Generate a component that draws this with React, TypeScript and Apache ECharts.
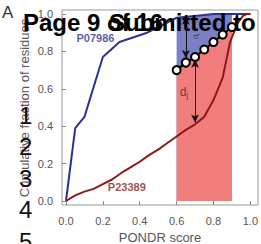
import React, { useEffect, useRef } from "react";
import * as echarts from "echarts";

// ---- data ----
const blueCurve: [number, number][] = [
  [0, 0], [0.05, 0.39], [0.1, 0.45], [0.2, 0.77], [0.29, 0.85], [0.44, 0.9],
  [0.6, 0.98], [0.65, 0.985], [0.7, 0.99], [0.75, 0.995], [0.8, 1.0],
  [0.85, 1.0], [0.9, 1.0], [1.0, 1.0],
];
const redCurve: [number, number][] = [
  [0, 0], [0.05, 0.03], [0.1, 0.05], [0.15, 0.065], [0.2, 0.09], [0.25, 0.115],
  [0.3, 0.15], [0.35, 0.18], [0.4, 0.21], [0.45, 0.245], [0.5, 0.275],
  [0.55, 0.31], [0.6, 0.345], [0.65, 0.38], [0.7, 0.41], [0.75, 0.45],
  [0.8, 0.54], [0.85, 0.66], [0.89, 0.85], [0.93, 0.95], [0.96, 0.99],
  [0.98, 1.0], [1.0, 1.0],
];
const circleLine: [number, number][] = [
  [0.6, 0.7], [0.65, 0.74], [0.7, 0.77], [0.75, 0.81], [0.8, 0.85],
  [0.85, 0.89], [0.9, 0.93],
];
const fillRange = [0.6, 0.9];
const arrowBlue = { x: 0.65, from: 0.985, to: 0.765 };
const arrowRed = { x: 0.7, from: 0.755, to: 0.42 };
const seriesLabels = [
  { name: "P07986", pos: [0.16, 0.87] as [number, number], color: "#2e3192" },
  { name: "P23389", pos: [0.33, 0.075] as [number, number], color: "#8b1a1a" },
];
const distLabels = [
  { sub: "j", pos: [0.64, 0.585] as [number, number], rotate: 0, size: 12 },
  { sub: "i", pos: [0.705, 0.88] as [number, number], rotate: 90, size: 8 },
];
const tickValues = [0, 0.2, 0.4, 0.6, 0.8, 1.0];
const xTitle = "PONDR score";
const yTitle = "Cumulative fraction of residues";
const lineNumbers = ["1", "2", "3", "4", "5"];

const FONT = "'Liberation Sans', Arial, sans-serif";

const topText = (text: string, x: number, y: number, font: string, fill: string, z = 100) => ({
  type: "text",
  x,
  y,
  z,
  style: { text, font, fill, align: "left", verticalAlign: "top", textAlign: "left", textVerticalAlign: "top" },
});

export default function App() {
  const ref = useRef<HTMLDivElement>(null);
  useEffect(() => {
    if (!ref.current) return;
    const chart = echarts.init(ref.current, null, { renderer: "svg" });
    const blueFill = blueCurve.filter((p) => p[0] >= fillRange[0] && p[0] <= fillRange[1]);
    const tickLabel = {
      fontSize: 11,
      color: "#555",
      fontFamily: FONT,
      formatter: (v: number) => v.toFixed(1),
    };
    const option: any = {
      animation: false,
      grid: { left: 66, right: 8, top: 14, bottom: 43 },
      xAxis: {
        type: "value",
        min: tickValues[0],
        max: tickValues[tickValues.length - 1],
        interval: 0.2,
        offset: 4,
        axisLine: { show: false },
        axisTick: { show: true, length: 4, lineStyle: { color: "#888" } },
        axisLabel: { ...tickLabel, margin: 10 },
        splitLine: { show: false },
      },
      yAxis: {
        type: "value",
        min: tickValues[0],
        max: tickValues[tickValues.length - 1],
        interval: 0.2,
        offset: 4,
        axisLine: { show: false },
        axisTick: { show: true, length: 4, lineStyle: { color: "#888" } },
        axisLabel: { ...tickLabel, margin: 9 },
        splitLine: { show: false },
      },
      series: [
        {
          type: "line",
          data: blueFill,
          symbol: "none",
          lineStyle: { width: 0 },
          areaStyle: { color: "#7b7fc6", opacity: 1 },
          z: 1,
          silent: true,
        },
        {
          type: "line",
          data: circleLine,
          symbol: "none",
          lineStyle: { width: 0 },
          areaStyle: { color: "#f27d7d", opacity: 1 },
          z: 2,
          silent: true,
        },
        {
          type: "line",
          data: blueCurve,
          symbol: "none",
          clip: false,
          lineStyle: { color: "#2e3192", width: 2 },
          z: 3,
        },
        {
          type: "line",
          data: redCurve,
          symbol: "none",
          clip: false,
          lineStyle: { color: "#8b1a1a", width: 2 },
          z: 3,
        },
        {
          type: "line",
          data: [],
          z: 4,
          markLine: {
            silent: true,
            symbol: ["arrow", "arrow"],
            symbolSize: [6, 8],
            label: { show: false },
            lineStyle: { color: "#111", width: 1, type: "solid" },
            data: [
              [{ coord: [arrowBlue.x, arrowBlue.from] }, { coord: [arrowBlue.x, arrowBlue.to] }],
              [{ coord: [arrowRed.x, arrowRed.from] }, { coord: [arrowRed.x, arrowRed.to] }],
            ],
          },
        },
        {
          type: "line",
          data: circleLine,
          symbol: "circle",
          symbolSize: 8,
          clip: false,
          lineStyle: { color: "#000", width: 2 },
          itemStyle: { color: "#fff", borderColor: "#000", borderWidth: 2 },
          z: 5,
        },
        {
          type: "scatter",
          symbolSize: 0,
          z: 6,
          data: seriesLabels.map((l) => ({
            value: l.pos,
            label: {
              show: true,
              position: "inside",
              formatter: l.name,
              color: l.color,
              fontWeight: "bold",
              fontSize: 11,
              fontFamily: FONT,
            },
          })),
        },
        {
          type: "scatter",
          symbolSize: 0,
          z: 6,
          data: distLabels.map((l) => ({
            value: l.pos,
            label: {
              show: true,
              position: "inside",
              rotate: l.rotate,
              formatter: "{d|d}{s|" + l.sub + "}",
              rich: {
                d: { fontSize: l.size, color: "#333", fontFamily: FONT },
                s: { fontSize: l.size * 0.7, color: "#333", fontFamily: FONT, padding: [l.size * 0.5, 0, 0, 0] },
              },
            },
          })),
        },
      ],
      graphic: [
        {
          type: "rect",
          shape: { x: 62, y: 10, width: 196, height: 195 },
          style: { fill: "none", stroke: "#999", lineWidth: 1 },
          z: 0,
          silent: true,
        },
        {
          type: "text",
          x: 160,
          y: 237,
          style: { text: xTitle, font: `13px ${FONT}`, fill: "#555", align: "center", verticalAlign: "middle", textAlign: "center", textVerticalAlign: "middle" },
        },
        {
          type: "text",
          x: 24,
          y: 108,
          rotation: Math.PI / 2,
          style: { text: yTitle, font: `13px ${FONT}`, fill: "#555", align: "center", verticalAlign: "middle", textAlign: "center", textVerticalAlign: "middle" },
        },
        topText("A", 2, 4, `17px ${FONT}`, "#333", 10),
        topText("Page 9 of 16", 23, 10, `bold 24px ${FONT}`, "#000"),
        topText("Submitted to", 109, 10, `bold 24px ${FONT}`, "#000"),
        ...lineNumbers.map((n, i) => topText(n, 19, 103 + i * 31.5, `24px ${FONT}`, "#111")),
      ],
    };
    chart.setOption(option);
    return () => chart.dispose();
  }, []);
  return (
    <div
      ref={ref}
      style={{ position: "fixed", left: 0, top: 0, width: 261, height: 244, background: "#fff" }}
    />
  );
}
